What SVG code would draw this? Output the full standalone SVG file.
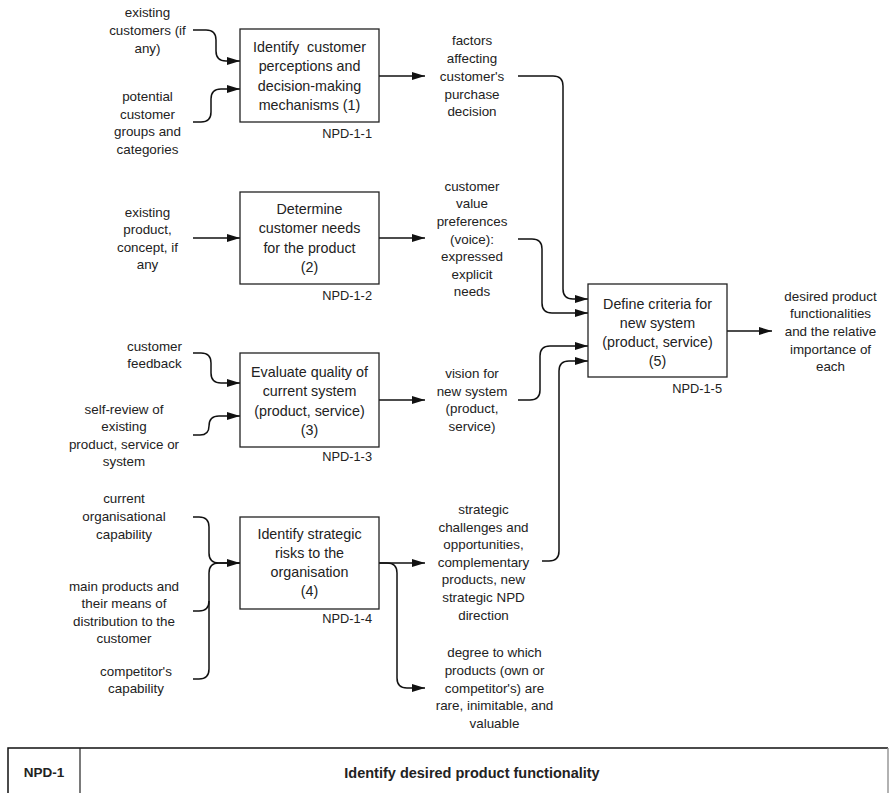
<svg xmlns="http://www.w3.org/2000/svg" width="889" height="793" viewBox="0 0 889 793">
<style>
text{font-family:"Liberation Sans",Arial,sans-serif;fill:#222;text-anchor:middle}
.bx{font-size:14.3px}
.lb{font-size:13.4px}
.id{font-size:12.8px;text-anchor:end}
.box{fill:#fff;stroke:#222;stroke-width:1.3}
.cn{fill:none;stroke:#111;stroke-width:1.5}
.tb{fill:none;stroke:#111;stroke-width:1.5}
.tt{font-weight:bold}
</style>
<defs>
<marker id="ah" markerUnits="userSpaceOnUse" markerWidth="13" markerHeight="8" refX="13" refY="4" orient="auto">
<path d="M0,0 L13,4 L0,8 z" fill="#111"/>
</marker>
</defs>

<g id="connectors">
<path class="cn" d="M193,30 H206 Q216,30 216,40 V51 Q216,61 226,61 H240" marker-end="url(#ah)"/>
<path class="cn" d="M193,122 H201 Q211,122 211,112 V99 Q211,89 221,89 H240" marker-end="url(#ah)"/>
<path class="cn" d="M193,238 H240" marker-end="url(#ah)"/>
<path class="cn" d="M193,353 H201 Q211,353 211,363 V373 Q211,383 221,383 H240" marker-end="url(#ah)"/>
<path class="cn" d="M193,435 H200 Q209,435 209,426 Q209,416 219,416 H240" marker-end="url(#ah)"/>
<path class="cn" d="M193,517 H199 Q209,517 209,527 V553 Q209,563 219,563 H240" marker-end="url(#ah)"/>
<path class="cn" d="M193,611 H199 Q209,611 209,601 V573 Q209,563 219,563 H240"/>
<path class="cn" d="M193,679 H199 Q209,679 209,669 V601"/>
<path class="cn" d="M379,76 H425" marker-end="url(#ah)"/>
<path class="cn" d="M379,238 H425" marker-end="url(#ah)"/>
<path class="cn" d="M379,400 H425" marker-end="url(#ah)"/>
<path class="cn" d="M379,563 H425" marker-end="url(#ah)"/>
<path class="cn" d="M379,563 H387 Q397,563 397,573 V678 Q397,688 407,688 H425" marker-end="url(#ah)"/>
<path class="cn" d="M518,76 H553 Q563,76 563,86 V289 Q563,299 573,299 H588" marker-end="url(#ah)"/>
<path class="cn" d="M518,239 H532 Q542,239 542,249 V303 Q542,313 552,313 H588" marker-end="url(#ah)"/>
<path class="cn" d="M518,400 H530 Q540,400 540,390 V356 Q540,346 550,346 H588" marker-end="url(#ah)"/>
<path class="cn" d="M542,561 H549 Q559,561 559,551 V371 Q559,361 569,361 H588" marker-end="url(#ah)"/>
<path class="cn" d="M727,331 H772" marker-end="url(#ah)"/>
</g>

<g id="node1">
<rect class="box" x="240" y="29" width="139" height="93"/>
<text class="bx" x="309.5" y="52" xml:space="preserve">Identify  customer</text>
<text class="bx" x="309.5" y="71.3">perceptions and</text>
<text class="bx" x="309.5" y="90.6">decision-making</text>
<text class="bx" x="309.5" y="110">mechanisms (1)</text>
<text class="id" x="372" y="137.5">NPD-1-1</text>
</g>

<g id="node2">
<rect class="box" x="240" y="192" width="139" height="92"/>
<text class="bx" x="309.5" y="214">Determine</text>
<text class="bx" x="309.5" y="233.3">customer needs</text>
<text class="bx" x="309.5" y="252.6">for the product</text>
<text class="bx" x="309.5" y="272">(2)</text>
<text class="id" x="372" y="299.5">NPD-1-2</text>
</g>

<g id="node3">
<rect class="box" x="240" y="353" width="139" height="94"/>
<text class="bx" x="309.5" y="377">Evaluate quality of</text>
<text class="bx" x="309.5" y="396.3">current system</text>
<text class="bx" x="309.5" y="415.6">(product, service)</text>
<text class="bx" x="309.5" y="435">(3)</text>
<text class="id" x="372" y="460.5">NPD-1-3</text>
</g>

<g id="node4">
<rect class="box" x="240" y="517" width="139" height="92"/>
<text class="bx" x="309.5" y="538.5">Identify strategic</text>
<text class="bx" x="309.5" y="557.8">risks to the</text>
<text class="bx" x="309.5" y="577.1">organisation</text>
<text class="bx" x="309.5" y="596.4">(4)</text>
<text class="id" x="372" y="622.5">NPD-1-4</text>
</g>

<g id="node5">
<rect class="box" x="588" y="284" width="139" height="93"/>
<text class="bx" x="657.5" y="309">Define criteria for</text>
<text class="bx" x="657.5" y="328">new system</text>
<text class="bx" x="657.5" y="347">(product, service)</text>
<text class="bx" x="657.5" y="366">(5)</text>
<text class="id" x="722" y="392.5">NPD-1-5</text>
</g>

<g id="label-existing-customers">
<text class="lb" x="147.5" y="17">existing</text>
<text class="lb" x="147.5" y="35">customers (if</text>
<text class="lb" x="147.5" y="53">any)</text>
</g>
<g id="label-potential-customer">
<text class="lb" x="147.5" y="101">potential</text>
<text class="lb" x="147.5" y="118.5">customer</text>
<text class="lb" x="147.5" y="136">groups and</text>
<text class="lb" x="147.5" y="153.5">categories</text>
</g>
<g id="label-existing-product">
<text class="lb" x="147.5" y="216.5">existing</text>
<text class="lb" x="147.5" y="234">product,</text>
<text class="lb" x="147.5" y="251.5">concept, if</text>
<text class="lb" x="147.5" y="269">any</text>
</g>
<g id="label-customer-feedback">
<text class="lb" x="154.5" y="350.5">customer</text>
<text class="lb" x="154.5" y="368">feedback</text>
</g>
<g id="label-self-review">
<text class="lb" x="124" y="413.5">self-review of</text>
<text class="lb" x="124" y="431">existing</text>
<text class="lb" x="124" y="448.5">product, service or</text>
<text class="lb" x="124" y="466">system</text>
</g>
<g id="label-current-capability">
<text class="lb" x="124" y="503">current</text>
<text class="lb" x="124" y="520.7">organisational</text>
<text class="lb" x="124" y="538.5">capability</text>
</g>
<g id="label-main-products">
<text class="lb" x="124" y="590.7">main products and</text>
<text class="lb" x="124" y="608">their means of</text>
<text class="lb" x="124" y="625.5">distribution to the</text>
<text class="lb" x="124" y="643">customer</text>
</g>
<g id="label-competitor">
<text class="lb" x="136" y="675.7">competitor's</text>
<text class="lb" x="136" y="693">capability</text>
</g>
<g id="label-factors">
<text class="lb" x="472" y="45.4">factors</text>
<text class="lb" x="472" y="63">affecting</text>
<text class="lb" x="472" y="80.7">customer's</text>
<text class="lb" x="472" y="98.5">purchase</text>
<text class="lb" x="472" y="116.3">decision</text>
</g>
<g id="label-value-preferences">
<text class="lb" x="472" y="190.7">customer</text>
<text class="lb" x="472" y="208.3">value</text>
<text class="lb" x="472" y="225.9">preferences</text>
<text class="lb" x="472" y="243.5">(voice):</text>
<text class="lb" x="472" y="261.1">expressed</text>
<text class="lb" x="472" y="278.7">explicit</text>
<text class="lb" x="472" y="296.3">needs</text>
</g>
<g id="label-vision">
<text class="lb" x="472" y="378">vision for</text>
<text class="lb" x="472" y="395.6">new system</text>
<text class="lb" x="472" y="413.2">(product,</text>
<text class="lb" x="472" y="430.8">service)</text>
</g>
<g id="label-strategic">
<text class="lb" x="483.5" y="514">strategic</text>
<text class="lb" x="483.5" y="531.6">challenges and</text>
<text class="lb" x="483.5" y="549.2">opportunities,</text>
<text class="lb" x="483.5" y="566.8">complementary</text>
<text class="lb" x="483.5" y="584.4">products, new</text>
<text class="lb" x="483.5" y="602">strategic NPD</text>
<text class="lb" x="483.5" y="619.6">direction</text>
</g>
<g id="label-degree">
<text class="lb" x="494.5" y="657.4">degree to which</text>
<text class="lb" x="494.5" y="675">products (own or</text>
<text class="lb" x="494.5" y="692.6">competitor's) are</text>
<text class="lb" x="494.5" y="710.2">rare, inimitable, and</text>
<text class="lb" x="494.5" y="727.8">valuable</text>
</g>
<g id="label-desired">
<text class="lb" x="830.5" y="300.7">desired product</text>
<text class="lb" x="830.5" y="318.3">functionalities</text>
<text class="lb" x="830.5" y="335.9">and the relative</text>
<text class="lb" x="830.5" y="353.5">importance of</text>
<text class="lb" x="830.5" y="371.1">each</text>
</g>

<g id="title-table">
<path class="tb" d="M8,793 V748 H888"/>
<path d="M888,748 V793" stroke="#999" stroke-width="1.5" fill="none"/>
<path d="M80,748 V793" stroke="#222" stroke-width="1.2" fill="none"/>
<text class="tt" x="44" y="777" font-size="13.5">NPD-1</text>
<text class="tt" x="472" y="778" font-size="14.5">Identify desired product functionality</text>
</g>
</svg>
